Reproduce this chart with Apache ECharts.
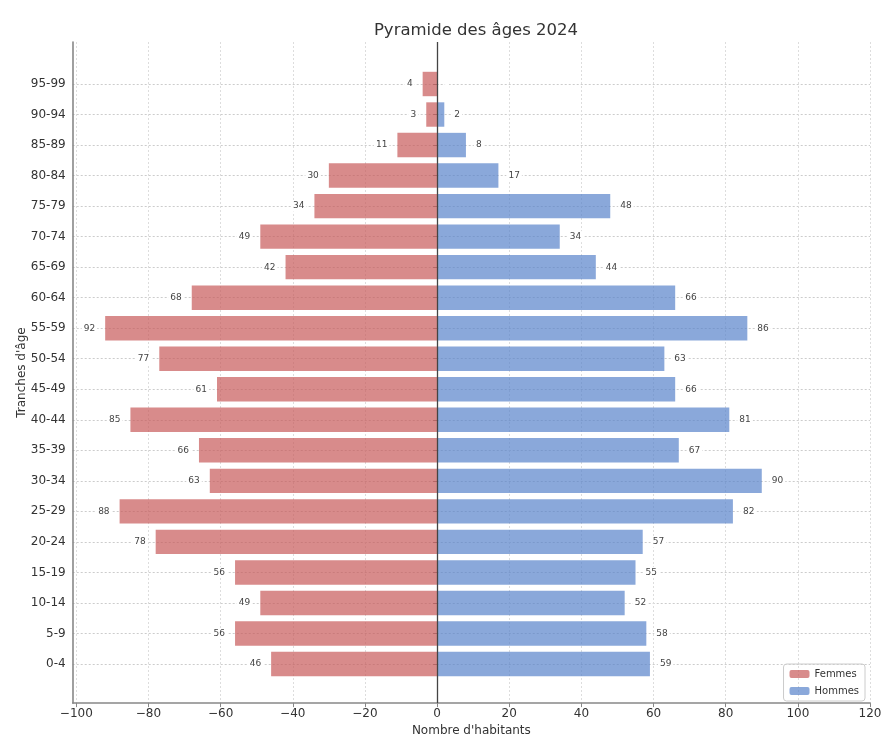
<!DOCTYPE html>
<html>
<head>
<meta charset="utf-8">
<script src="https://cdn.jsdelivr.net/npm/echarts@6/dist/echarts.min.js"></script>
<style>
  html, body { margin: 0; padding: 0; background: #fff; }
  #chart { width: 886px; height: 742px; }
</style>
</head>
<body>
<div id="chart"></div>
<script>
const ageGroups = ['0-4', '5-9', '10-14', '15-19', '20-24', '25-29', '30-34', '35-39', '40-44', '45-49',
  '50-54', '55-59', '60-64', '65-69', '70-74', '75-79', '80-84', '85-89', '90-94', '95-99'];
const femmes = [46, 56, 49, 56, 78, 88, 63, 66, 85, 61, 77, 92, 68, 42, 49, 34, 30, 11, 3, 4];
const hommes = [59, 58, 52, 55, 57, 82, 90, 67, 81, 66, 63, 86, 66, 44, 34, 48, 17, 8, 2, 0];
const xTicks = [-100, -80, -60, -40, -20, 0, 20, 40, 60, 80, 100, 120];

const font = 'DejaVu Sans';
const chart = echarts.init(document.getElementById('chart'));

const option = {
  animation: false,
  textStyle: { fontFamily: font },
  title: {
    text: 'Pyramide des âges 2024',
    left: 471, top: 17, textAlign: 'center',
    textStyle: { fontFamily: font, fontSize: 16.5, fontWeight: 'normal', color: '#333' }
  },
  legend: {
    orient: 'vertical', right: 21, bottom: 41,
    itemWidth: 20, itemHeight: 8, itemGap: 7,
    padding: [5, 6, 5, 6],
    borderColor: '#ccc', borderWidth: 1, borderRadius: 3,
    textStyle: { fontSize: 10, color: '#333' },
    data: ['Femmes', 'Hommes']
  },
  grid: [
    // full frame: spines, x axis, vertical grid
    { left: 72.7, right: 16, top: 42, bottom: 36 },
    // bars: category centres run from 84 to 664
    { left: 72.7, right: 16, top: 84, bottom: 78 }
  ],
  xAxis: [
    {
      gridIndex: 0, type: 'value', min: -101, max: 120,
      name: "Nombre d'habitants", nameLocation: 'middle', nameGap: 20,
      nameTextStyle: { fontSize: 12, color: '#333' },
      axisLine: { onZero: false, lineStyle: { color: '#888', width: 1.6 } },
      axisTick: { show: true, length: 4, customValues: xTicks, lineStyle: { color: '#888' } },
      axisLabel: {
        customValues: xTicks, fontSize: 12, color: '#333', margin: 5,
        formatter: v => String(v).replace('-', '\u2212')
      },
      splitLine: { show: true, lineStyle: { color: '#ddd', type: [2, 2], width: 1 } }
    },
    {
      gridIndex: 1, type: 'value', min: -101, max: 120, show: false
    }
  ],
  yAxis: [
    {
      gridIndex: 0, type: 'value', min: 0, max: 1,
      name: "Tranches d'âge", nameLocation: 'middle', nameGap: 45,
      nameTextStyle: { fontSize: 12, color: '#333' },
      axisLine: { show: true, onZero: false, lineStyle: { color: '#888', width: 1.6 } },
      axisTick: { show: false }, axisLabel: { show: false },
      splitLine: { show: false }
    },
    {
      gridIndex: 1, type: 'category', data: ageGroups, boundaryGap: false,
      axisLine: { show: false },
      axisTick: { show: true, length: 4, lineStyle: { color: '#888' } },
      axisLabel: { fontSize: 12, color: '#333', margin: 7 },
      splitLine: { show: true, lineStyle: { color: '#ccc', type: [2, 2], width: 1 } }
    }
  ],
  series: [
    {
      name: 'Femmes', type: 'bar', xAxisIndex: 1, yAxisIndex: 1,
      data: femmes.map(v => -v),
      barGap: '-100%', barCategoryGap: '20%', clip: false,
      itemStyle: { color: 'rgba(200,90,90,0.7)' },
      label: {
        show: true, position: 'left', distance: 8,
        fontSize: 9, color: '#444', backgroundColor: '#fff', padding: [1, 2],
        formatter: p => Math.abs(p.value)
      }
    },
    {
      name: 'Hommes', type: 'bar', xAxisIndex: 1, yAxisIndex: 1,
      data: hommes,
      barGap: '-100%', barCategoryGap: '20%', clip: false,
      itemStyle: { color: 'rgba(88,131,202,0.7)' },
      label: {
        show: true, position: 'right', distance: 8,
        fontSize: 9, color: '#444', backgroundColor: '#fff', padding: [1, 2],
        formatter: p => p.value > 0 ? p.value : ''
      }
    },
    {
      // zero line across the full frame
      type: 'line', xAxisIndex: 0, yAxisIndex: 0, data: [],
      markLine: {
        silent: true, symbol: 'none', label: { show: false },
        lineStyle: { color: '#444', width: 1.3, type: 'solid' },
        data: [{ xAxis: 0 }]
      },
      z: 5
    }
  ]
};
chart.setOption(option);
</script>
</body>
</html>
